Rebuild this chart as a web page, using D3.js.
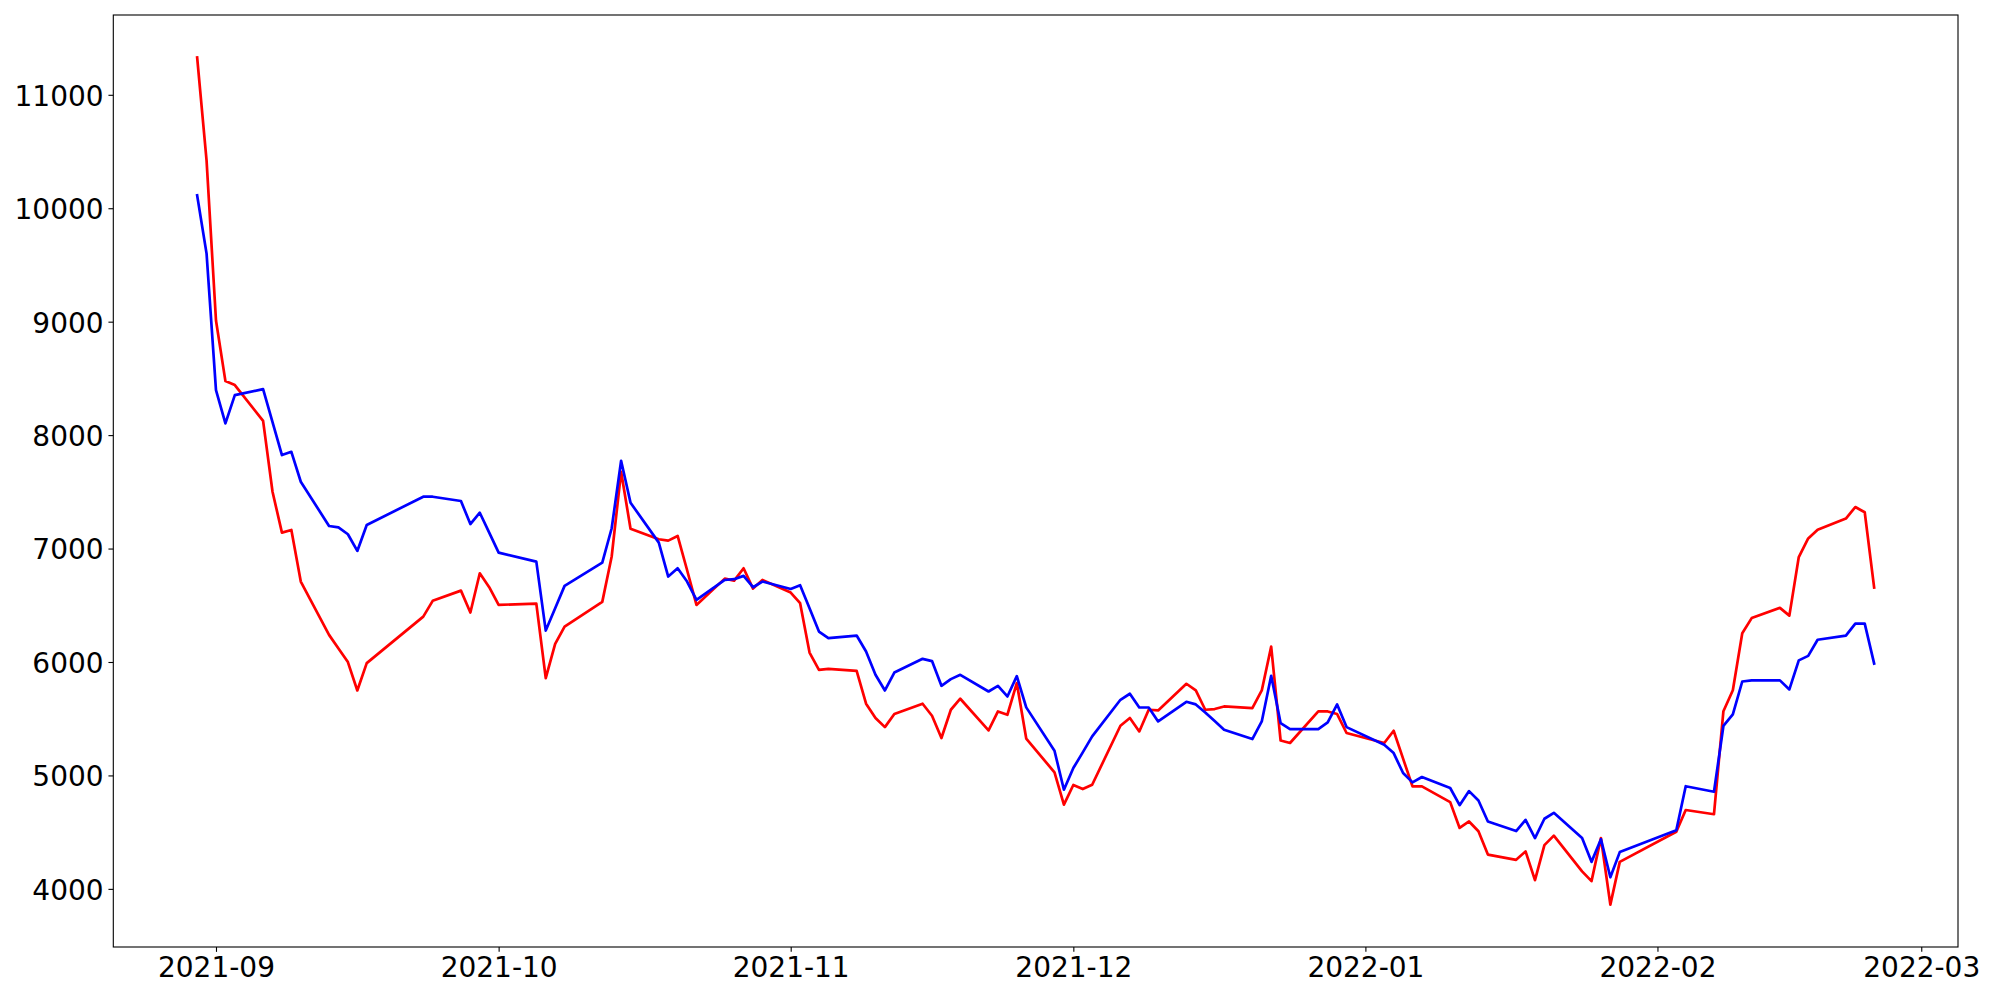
<!DOCTYPE html>
<html>
<head>
<meta charset="utf-8">
<script src="https://cdn.jsdelivr.net/npm/d3@7"></script>
<style>
  html, body { margin: 0; padding: 0; background: #fff; }
  svg { display: block; }
  text { font-family: "DejaVu Sans", sans-serif; }
</style>
</head>
<body>
<svg id="chart" width="2000" height="1000"></svg>
<script>
// ---- data (trading days) ----
const dates = [
"2021-08-30","2021-08-31","2021-09-01","2021-09-02","2021-09-03","2021-09-06","2021-09-07","2021-09-08","2021-09-09","2021-09-10",
"2021-09-13","2021-09-14","2021-09-15","2021-09-16","2021-09-17","2021-09-23","2021-09-24","2021-09-27","2021-09-28","2021-09-29",
"2021-09-30","2021-10-01","2021-10-05","2021-10-06","2021-10-07","2021-10-08","2021-10-12","2021-10-13","2021-10-14","2021-10-15",
"2021-10-18","2021-10-19","2021-10-20","2021-10-21","2021-10-22","2021-10-25","2021-10-26","2021-10-27","2021-10-28","2021-10-29",
"2021-11-01","2021-11-02","2021-11-03","2021-11-04","2021-11-05","2021-11-08","2021-11-09","2021-11-10","2021-11-11","2021-11-12",
"2021-11-15","2021-11-16","2021-11-17","2021-11-18","2021-11-19","2021-11-22","2021-11-23","2021-11-24","2021-11-25","2021-11-26",
"2021-11-29","2021-11-30","2021-12-01","2021-12-02","2021-12-03","2021-12-06","2021-12-07","2021-12-08","2021-12-09","2021-12-10",
"2021-12-13","2021-12-14","2021-12-15","2021-12-16","2021-12-17","2021-12-20","2021-12-21","2021-12-22","2021-12-23","2021-12-24",
"2021-12-27","2021-12-28","2021-12-29","2021-12-30","2022-01-03","2022-01-04","2022-01-05","2022-01-06","2022-01-07","2022-01-10",
"2022-01-11","2022-01-12","2022-01-13","2022-01-14","2022-01-17","2022-01-18","2022-01-19","2022-01-20","2022-01-21","2022-01-24",
"2022-01-25","2022-01-26","2022-01-27","2022-01-28","2022-02-03","2022-02-04","2022-02-07","2022-02-08","2022-02-09","2022-02-10",
"2022-02-11","2022-02-14","2022-02-15","2022-02-16","2022-02-17","2022-02-18","2022-02-21","2022-02-22","2022-02-23","2022-02-24"
];

const redValues = [
11330,10420,9010,8476,8441,8126,7501,7140,7164,6709,
6239,6119,5999,5749,5990,6400,6539,6629,6436,6782,
6659,6503,6515,5858,6160,6312,6530,6930,7677,7175,
7082,7070,7111,6811,6503,6735,6717,6826,6647,6723,
6612,6518,6083,5931,5940,5922,5632,5506,5426,5541,
5632,5526,5330,5579,5676,5397,5564,5535,5814,5325,
5027,4742,4916,4880,4918,5438,5506,5388,5579,5573,
5808,5749,5579,5585,5608,5594,5749,6136,5308,5286,
5564,5564,5541,5374,5286,5394,5148,4903,4903,4765,
4537,4594,4508,4302,4256,4330,4077,4386,4469,4154,
4068,4448,3861,4238,4504,4695,4658,5566,5751,6254,
6387,6477,6409,6925,7089,7166,7264,7366,7320,6656
];

const blueValues = [
10113,9600,8396,8103,8352,8405,8115,7824,7853,7589,
7199,7187,7126,6979,7208,7457,7457,7419,7216,7316,
7140,6964,6885,6277,6474,6671,6876,7179,7774,7404,
7052,6753,6826,6709,6547,6723,6730,6759,6659,6709,
6644,6677,6474,6268,6210,6233,6092,5887,5749,5907,
6028,6008,5790,5849,5887,5740,5790,5696,5875,5600,
5218,4874,5065,5203,5344,5667,5720,5599,5599,5476,
5649,5626,5555,5479,5403,5321,5476,5878,5462,5409,
5409,5467,5626,5426,5271,5197,5021,4939,4986,4889,
4738,4862,4779,4594,4510,4608,4448,4618,4670,4448,
4238,4438,4102,4324,4516,4905,4856,5436,5538,5828,
5838,5838,5758,6014,6054,6196,6233,6338,6338,5986
];

const yTickValues = [4000, 5000, 6000, 7000, 8000, 9000, 10000, 11000];
const seriesColors = ["#ff0000", "#0000ff"];

// ---- layout ----
const W = 2000, H = 1000;
const plot = { left: 113.3, right: 1958, top: 15, bottom: 947 };

const parse = d3.timeParse("%Y-%m-%d");
const dateObjs = dates.map(parse);

const red = dateObjs.map((d, i) => ({ date: d, v: redValues[i] }));
const blue = dateObjs.map((d, i) => ({ date: d, v: blueValues[i] }));

// matplotlib-like 5% margins
const tExt = d3.extent(dateObjs);
const tPad = (tExt[1] - tExt[0]) * 0.05;
const x = d3.scaleTime()
  .domain([new Date(+tExt[0] - tPad), new Date(+tExt[1] + tPad)])
  .range([plot.left, plot.right]);

const allV = redValues.concat(blueValues);
const vMin = d3.min(allV), vMax = d3.max(allV);
const vPad = (vMax - vMin) * 0.05;
const y = d3.scaleLinear()
  .domain([vMin - vPad, vMax + vPad])
  .range([plot.bottom, plot.top]);

const svg = d3.select("#chart");
svg.append("rect").attr("width", W).attr("height", H).attr("fill", "#fff");

const fontSize = 28;
const tickLen = 4.86;

// lines
const line = d3.line().x(d => x(d.date)).y(d => y(d.v));
const lineG = svg.append("g");
[red, blue].forEach((s, i) => {
  lineG.append("path")
    .datum(s)
    .attr("d", line)
    .attr("fill", "none")
    .attr("stroke", seriesColors[i])
    .attr("stroke-width", 2.7)
    .attr("stroke-linejoin", "round")
    .attr("stroke-linecap", "square");
});

// axes
const xAxis = d3.axisBottom(x)
  .ticks(d3.timeMonth.every(1))
  .tickFormat(d3.timeFormat("%Y-%m"))
  .tickSizeInner(tickLen).tickSizeOuter(0).tickPadding(4.86);
const gx = svg.append("g").attr("transform", `translate(0,${plot.bottom})`).call(xAxis);

const yAxis = d3.axisLeft(y)
  .tickValues(yTickValues)
  .tickFormat(d3.format("d"))
  .tickSizeInner(tickLen).tickSizeOuter(0).tickPadding(4.86);
const gy = svg.append("g").attr("transform", `translate(${plot.left},0)`).call(yAxis);

[gx, gy].forEach(g => {
  g.select(".domain").remove();
  g.selectAll(".tick line").attr("stroke", "#000").attr("stroke-width", 1.1);
  g.selectAll(".tick text")
    .attr("fill", "#000")
    .style("font-family", "'DejaVu Sans', sans-serif")
    .style("font-size", fontSize + "px");
});
gy.selectAll(".tick text").attr("dy", "0.37em");

// spines
svg.append("rect")
  .attr("x", plot.left).attr("y", plot.top)
  .attr("width", plot.right - plot.left).attr("height", plot.bottom - plot.top)
  .attr("fill", "none").attr("stroke", "#000").attr("stroke-width", 1.1);
</script>
</body>
</html>
